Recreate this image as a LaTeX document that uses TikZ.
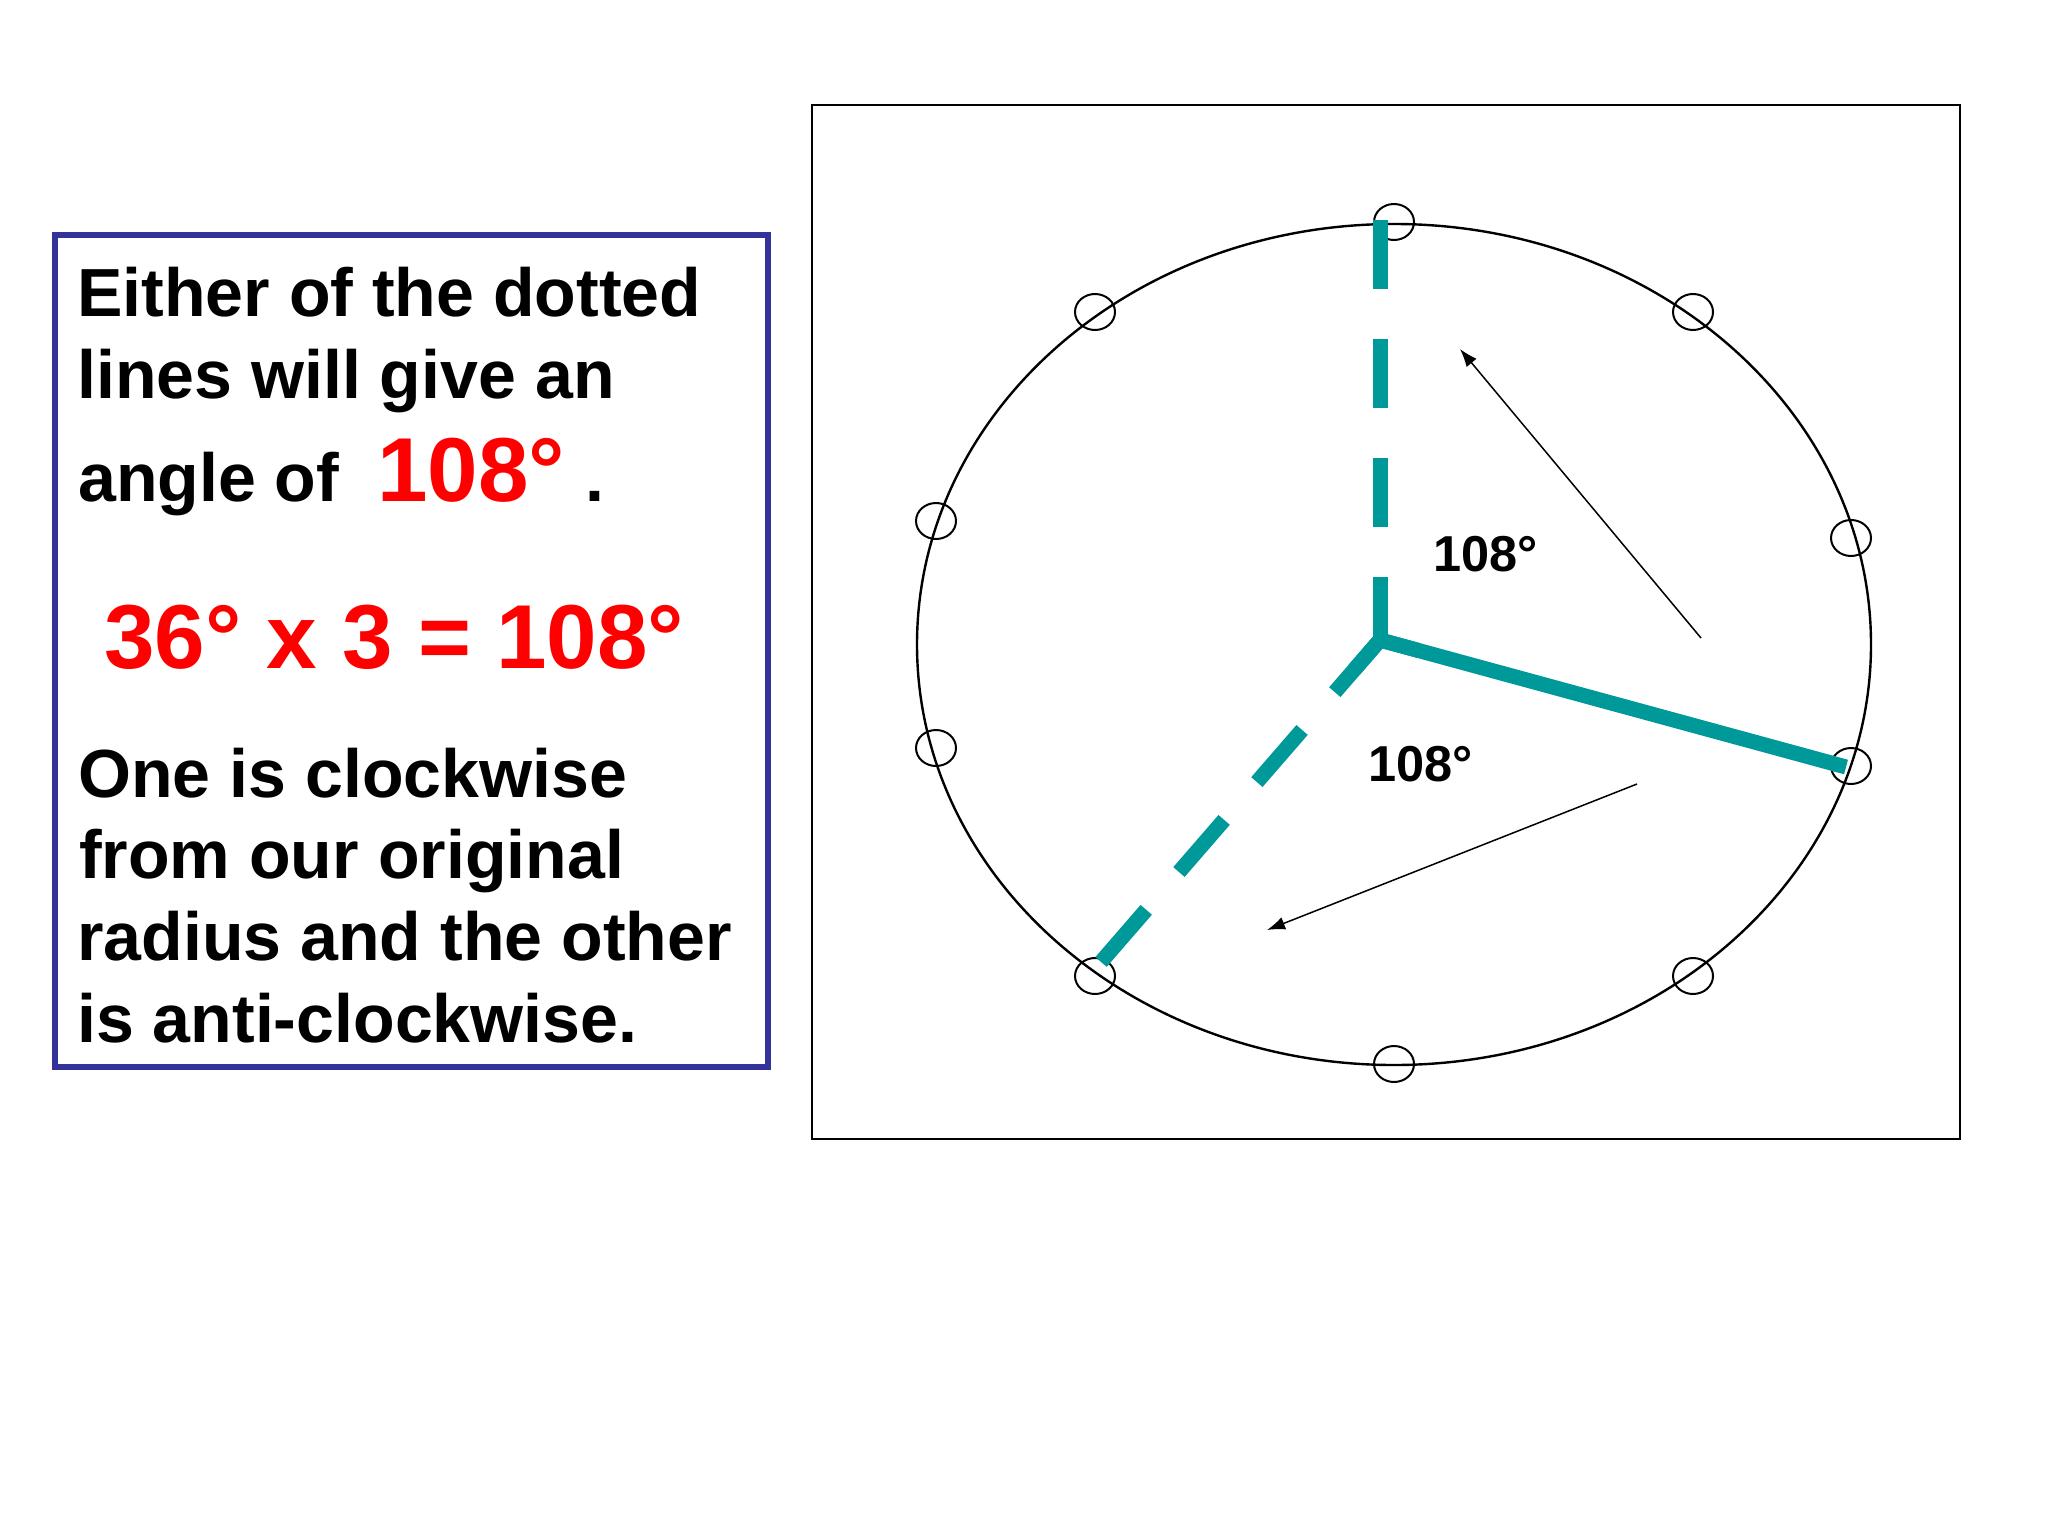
\documentclass[tikz,border=0pt]{standalone}
\usepackage{fontspec}
\setmainfont{Liberation Sans}
\usetikzlibrary{shapes.geometric,arrows.meta,calc}
\definecolor{boxblue}{RGB}{51,51,153}
\definecolor{tealr}{RGB}{0,153,153}
\definecolor{redtxt}{RGB}{255,0,0}
\begin{document}
\begin{tikzpicture}[x=1pt,y=-1pt,
  blacktxt/.style={anchor=base west, inner sep=0pt, font=\fontsize{68.1}{80}\selectfont\bfseries},
  redbig/.style={anchor=base west, inner sep=0pt, text=redtxt, font=\fontsize{90.8}{100}\selectfont\bfseries},
  anglelbl/.style={anchor=base west, inner sep=0pt, font=\fontsize{50.5}{56}\selectfont\bfseries},
  marker/.style={draw=black, line width=2pt, ellipse, minimum width=40pt, minimum height=36pt, inner sep=0pt},
  radiusline/.style={draw=tealr, line width=15pt},
  dashedradius/.style={radiusline, dash pattern=on 69pt off 50pt},
  turnarrow/.style={draw=black, line width=1.5pt, -{Latex[length=18pt,width=13pt]}},
]
\useasboundingbox (0,0) rectangle (2048,1536);
\fill[white] (0,0) rectangle (2048,1536);

% left text box
\node[draw=boxblue, line width=6pt, fill=white, minimum width=713pt, minimum height=832pt, inner sep=0pt, outer sep=0pt, anchor=north west] (textbox) at (55,235) {};
\node[blacktxt] (t1) at (77,316) {Either of the dotted};
\node[blacktxt] (t2) at (77,398) {lines will give an};
\node[blacktxt] (t3) at (78,501) {angle of};
\node[redbig] (t3b) at (377,501) {108°};
\node[blacktxt] (t3c) at (585,501) {.};
\node[redbig] (t4) at (104,668) {36° x 3 = 108°};
\node[blacktxt] (t5) at (78,797) {One is clockwise};
\node[blacktxt] (t6) at (79,878) {from our original};
\node[blacktxt] (t7) at (77,960) {radius and the other};
\node[blacktxt] (t8) at (77,1042) {is anti-clockwise.};

% right frame
\node[draw=black, line width=2pt, minimum width=1148pt, minimum height=1034pt, inner sep=0pt, outer sep=0pt, anchor=north west] (frame) at (812,105) {};

% wheel
\node[draw=black, ellipse, line width=2.4pt, minimum width=954pt, minimum height=841pt, inner sep=0pt] (wheel) at (1394,644.5) {};

% markers
\node[marker] (m0) at (1394,222) {};
\node[marker] (m1) at (1693,312) {};
\node[marker] (m2) at (1851,538) {};
\node[marker] (m3) at (1851,766) {};
\node[marker] (m4) at (1693,976) {};
\node[marker] (m5) at (1394,1064) {};
\node[marker] (m6) at (1095,976) {};
\node[marker] (m7) at (936,748) {};
\node[marker] (m8) at (936,521) {};
\node[marker] (m9) at (1095,312) {};

% radii
\coordinate (O) at (1380,640);
\coordinate (vtop) at (1380,220);
\coordinate (send) at (1846,767);
\coordinate (dend) at (1101,962);
\draw[dashedradius] (vtop) -- (O);
\draw[dashedradius] (O) -- (dend);
\draw[radiusline] (O) -- (send);
\draw[radiusline, line join=miter] ($(O)!40pt!(dend)$) -- (O) -- ($(O)!40pt!(send)$);

% turning arrows
\coordinate (a1s) at (1701,638);
\coordinate (a1e) at (1460,349);
\coordinate (a2s) at (1637,784);
\coordinate (a2e) at (1267,930);
\draw[turnarrow] (a1s) -- (a1e);
\draw[turnarrow] (a2s) -- (a2e);

% angle labels
\node[anglelbl] (lblup) at (1433,571) {108°};
\node[anglelbl] (lbldown) at (1368,781) {108°};
\end{tikzpicture}
\end{document}
